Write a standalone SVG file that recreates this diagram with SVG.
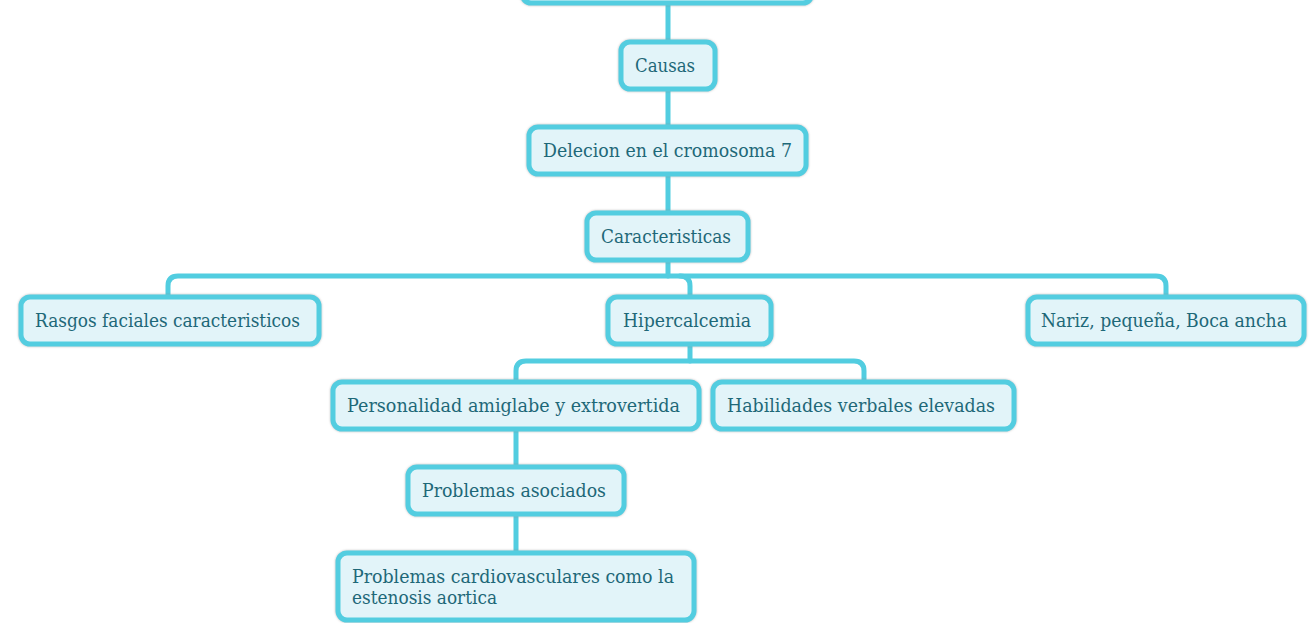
<svg xmlns="http://www.w3.org/2000/svg" width="1314" height="623" viewBox="0 0 1314 623">
<defs>
<style>
.box{fill:#e2f4f9;stroke:#52cde0;stroke-width:5;filter:url(#sh)}
.t{font-family:"DejaVu Serif","Liberation Serif",serif;font-size:18px;fill:#1e6878}
.c{fill:none;stroke:#52cde0;stroke-width:5;stroke-linecap:round;stroke-linejoin:round}
</style>
<filter id="sh" x="-10%" y="-30%" width="120%" height="160%">
<feDropShadow dx="0" dy="0" stdDeviation="1.2" flood-color="#888" flood-opacity="0.6"/>
</filter>
</defs>
<rect width="1314" height="623" fill="#fff"/>
<g id="connectors">
<path class="c" d="M668 0 V214"/>
<path class="c" d="M668 260 V276"/>
<path class="c" d="M168 297 V286 Q168 276 178 276 H1156 Q1166 276 1166 286 V297"/>
<path class="c" d="M680 276 Q690 276 690 286 V297"/>
<path class="c" d="M690 345 V361"/>
<path class="c" d="M516 382 V371 Q516 361 526 361 H854 Q864 361 864 371 V382"/>
<path class="c" d="M516 430 V553"/>
</g>
<g id="n0"><rect class="box" x="522" y="-40" width="290" height="43" rx="9"/></g>
<g id="n1"><rect class="box" x="621" y="42" width="94" height="47" rx="9"/><text class="t" x="635" y="72" textLength="60" lengthAdjust="spacingAndGlyphs">Causas</text></g>
<g id="n2"><rect class="box" x="529" y="127" width="277" height="47" rx="9"/><text class="t" x="543" y="157" textLength="249" lengthAdjust="spacingAndGlyphs">Delecion en el cromosoma 7</text></g>
<g id="n3"><rect class="box" x="587" y="213" width="161" height="47" rx="9"/><text class="t" x="601" y="243" textLength="130" lengthAdjust="spacingAndGlyphs">Caracteristicas</text></g>
<g id="n4"><rect class="box" x="21" y="297" width="298" height="47" rx="9"/><text class="t" x="35" y="327" textLength="265" lengthAdjust="spacingAndGlyphs">Rasgos faciales caracteristicos</text></g>
<g id="n5"><rect class="box" x="608" y="297" width="163" height="47" rx="9"/><text class="t" x="623" y="327" textLength="128" lengthAdjust="spacingAndGlyphs">Hipercalcemia</text></g>
<g id="n6"><rect class="box" x="1028" y="297" width="276" height="47" rx="9"/><text class="t" x="1041" y="327" textLength="246" lengthAdjust="spacingAndGlyphs">Nariz, pequeña, Boca ancha</text></g>
<g id="n7"><rect class="box" x="333" y="382" width="366" height="47" rx="9"/><text class="t" x="347" y="412" textLength="333" lengthAdjust="spacingAndGlyphs">Personalidad amiglabe y extrovertida</text></g>
<g id="n8"><rect class="box" x="713" y="382" width="301" height="47" rx="9"/><text class="t" x="727" y="412" textLength="268" lengthAdjust="spacingAndGlyphs">Habilidades verbales elevadas</text></g>
<g id="n9"><rect class="box" x="408" y="467" width="216" height="47" rx="9"/><text class="t" x="422" y="497" textLength="184" lengthAdjust="spacingAndGlyphs">Problemas asociados</text></g>
<g id="n10"><rect class="box" x="338" y="553" width="356" height="67" rx="9"/><text class="t" x="352" y="583" textLength="322" lengthAdjust="spacingAndGlyphs">Problemas cardiovasculares como la</text><text class="t" x="352" y="604" textLength="145" lengthAdjust="spacingAndGlyphs">estenosis aortica</text></g>
</svg>
